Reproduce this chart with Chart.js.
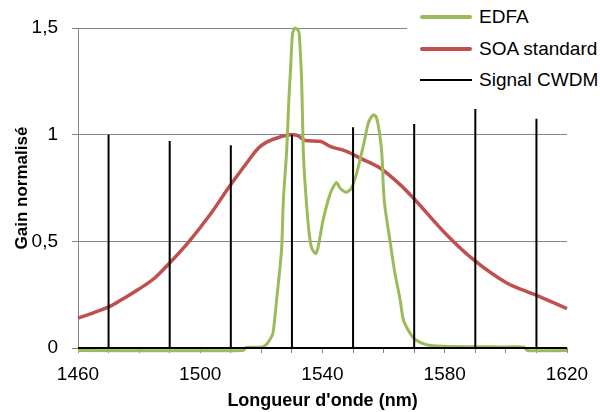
<!DOCTYPE html>
<html lang="fr">
<head>
<meta charset="UTF-8">
<title>Gain normalisé</title>
<script src="https://cdn.jsdelivr.net/npm/chart.js"></script>
<style>
  body { margin: 0; background: #fff; }
  #wrap { position: relative; width: 600px; height: 412px; }
  #legend { position: absolute; left: 407px; top: 0; width: 193px; height: 96px; background: #fff;
            font: 19px "Liberation Sans", Arial, sans-serif; color: #000; }
  .item { position: absolute; left: 13px; height: 24px; width: 180px; }
  .swatch { position: absolute; left: 0; width: 52px; border-radius: 2px; }
  .txt { position: absolute; left: 59px; top: 0; line-height: 24px; white-space: nowrap; }
</style>
</head>
<body>
<div id="wrap">
  <canvas id="chart" width="600" height="412"></canvas>
  <!-- Legend -->
  <div id="legend">
    <div class="item" style="top:5px"><div class="swatch" style="top:10px;height:4px;background:#9BBB59"></div><span class="txt">EDFA</span></div>
    <div class="item" style="top:37px"><div class="swatch" style="top:10px;height:4px;background:#C0504D"></div><span class="txt">SOA standard</span></div>
    <div class="item" style="top:68px"><div class="swatch" style="top:11px;height:2px;background:#000;border-radius:0"></div><span class="txt">Signal CWDM</span></div>
  </div>
</div>

<script>
  // EDFA gain curve
  const edfaX = [1460, 1514, 1515, 1520, 1521.5, 1522.8, 1523.8, 1525, 1526.6, 1527.2, 1528.3, 1529, 1529.6, 1530.2, 1531,
                 1532, 1532.4, 1533.2, 1533.7, 1534.3, 1535.4, 1536.4, 1537.8, 1538.6, 1540.2, 1541.9, 1543, 1544.6, 1545.7,
                 1547.8, 1549.5, 1551.2, 1552.8, 1553.8, 1555, 1556.6, 1557.5, 1558.3, 1559.4, 1559.9, 1560.4, 1562, 1563.7,
                 1565.4, 1566.5, 1568.6, 1570.3, 1574, 1579.5, 1600, 1606, 1607, 1620];
  const edfaY = [-0.012, -0.012, 0.002, 0.004, 0.015, 0.04, 0.07, 0.227, 0.46, 0.695, 0.93, 1.165, 1.32, 1.475, 1.5,
                 1.49, 1.47, 1.24, 0.93, 0.77, 0.57, 0.47, 0.442, 0.475, 0.6, 0.695, 0.74, 0.776, 0.75,
                 0.73, 0.75, 0.82, 0.915, 0.976, 1.055, 1.093, 1.085, 1.04, 0.915, 0.757, 0.665, 0.51, 0.35,
                 0.227, 0.13, 0.07, 0.04, 0.015, 0.008, 0.005, 0.004, -0.012, -0.012];

  // SOA standard gain curve
  const soaX = [1460, 1465, 1470.4, 1474.2, 1479.6, 1485.1, 1489.4, 1495.9, 1503.6, 1509.6, 1515.2, 1518.9, 1521.7,
                1526.1, 1529.4, 1530.5, 1532, 1534.3, 1539.2, 1542.5, 1547.9, 1552.3, 1558.8, 1565.4, 1569.2,
                1580.6, 1589.4, 1600.3, 1609.5, 1620];
  const soaY = [0.14, 0.165, 0.195, 0.226, 0.273, 0.328, 0.39, 0.492, 0.633, 0.758, 0.867, 0.935, 0.965,
                0.989, 1.0, 1.0, 0.995, 0.973, 0.969, 0.945, 0.922, 0.89, 0.844, 0.766, 0.711,
                0.531, 0.414, 0.305, 0.25, 0.185];

  // CWDM channels
  const cwdmChannels = [1470, 1490, 1510, 1530, 1550, 1570, 1590, 1610];
  const cwdmLevels = [1.0, 0.97, 0.95, 1.0, 1.035, 1.05, 1.12, 1.075];

  const xTicksLabelled = [1460, 1500, 1540, 1580, 1620];

  const toPoints = (xs, ys) => xs.map((x, i) => ({ x: x, y: ys[i] }));

  const signalPts = [{ x: 1460, y: 0 }];
  cwdmChannels.forEach((w, i) => {
    signalPts.push({ x: w, y: 0 }, { x: w, y: cwdmLevels[i] }, { x: w, y: 0 });
  });
  signalPts.push({ x: 1620, y: 0 });

  const tickFont = { family: '"Liberation Sans", Arial, sans-serif', size: 19 };

  const ctx = document.getElementById('chart').getContext('2d');
  new Chart(ctx, {
    type: 'line',
    data: {
      datasets: [
        {
          label: 'EDFA',
          data: toPoints(edfaX, edfaY),
          borderColor: '#9BBB59',
          borderWidth: 3,
          pointRadius: 0,
          tension: 0.25,
          clip: 10,
          order: 1
        },
        {
          label: 'SOA standard',
          data: toPoints(soaX, soaY),
          borderColor: '#C0504D',
          borderWidth: 3.5,
          pointRadius: 0,
          cubicInterpolationMode: 'monotone',
          clip: 10,
          order: 2
        },
        {
          label: 'Signal CWDM',
          data: signalPts,
          borderColor: '#000',
          borderWidth: 2,
          pointRadius: 0,
          tension: 0,
          clip: 10,
          order: 0
        }
      ]
    },
    options: {
      responsive: false,
      animation: false,
      layout: { padding: { top: 28, right: 33, left: 0, bottom: 0 } },
      plugins: {
        legend: { display: false },
        tooltip: { enabled: false }
      },
      scales: {
        x: {
          type: 'linear',
          min: 1460,
          max: 1620,
          ticks: {
            stepSize: 10,
            autoSkip: false,
            maxRotation: 0,
            color: '#000',
            font: tickFont,
            padding: 10,
            callback: v => xTicksLabelled.includes(v) ? String(v) : ''
          },
          grid: { drawOnChartArea: false, color: '#868686', tickLength: 5 },
          border: { color: '#868686' },
          title: {
            display: true,
            text: "Longueur d'onde (nm)",
            color: '#000',
            font: { family: '"Liberation Sans", Arial, sans-serif', size: 18, weight: 'bold' },
            padding: { top: 0, bottom: 0 }
          },
          afterFit: s => { s.height = 64; }
        },
        y: {
          min: 0,
          max: 1.5,
          ticks: {
            stepSize: 0.5,
            color: '#000',
            font: tickFont,
            padding: 14,
            callback: v => String(v).replace('.', ',')
          },
          grid: { color: '#868686', tickLength: 6 },
          border: { color: '#868686' },
          title: {
            display: true,
            text: 'Gain normalisé',
            color: '#000',
            font: { family: '"Liberation Sans", Arial, sans-serif', size: 17, weight: 'bold' },
            padding: { top: 12, bottom: 0 }
          },
          afterFit: s => { s.width = 78; }
        }
      }
    }
  });
</script>
</body>
</html>
